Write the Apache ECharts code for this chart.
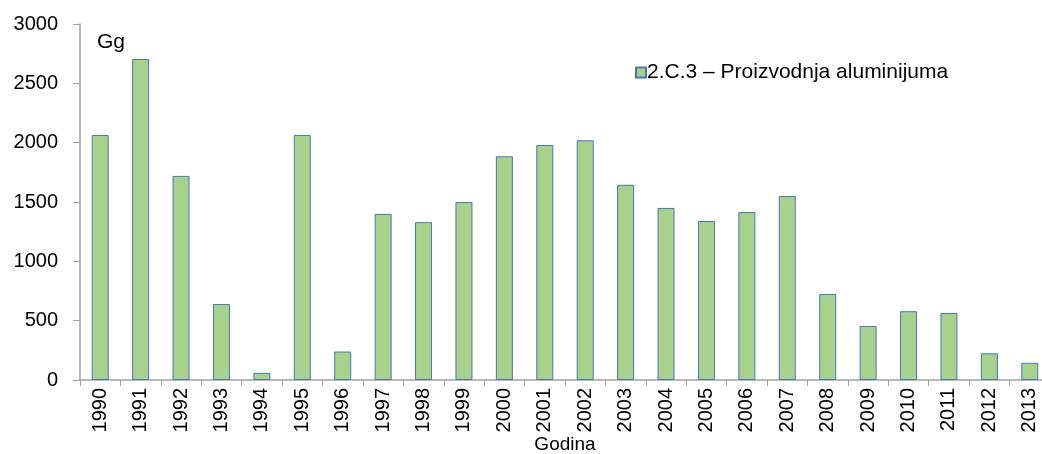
<!DOCTYPE html>
<html>
<head>
<meta charset="utf-8">
<script src="https://cdn.jsdelivr.net/npm/echarts@6/dist/echarts.min.js"></script>
<style>
    html, body { margin: 0; padding: 0; background: #fff; }
    #chart { width: 1042px; height: 454px; }
</style>
</head>
<body>
<div id="chart"></div>
<script>
    const years = ['1990', '1991', '1992', '1993', '1994', '1995', '1996', '1997', '1998', '1999', '2000', '2001',
        '2002', '2003', '2004', '2005', '2006', '2007', '2008', '2009', '2010', '2011', '2012', '2013'];
    const aluminium = [2065, 2705, 1720, 640, 60, 2065, 240, 1400, 1330, 1500, 1885, 1980,
        2020, 1645, 1450, 1340, 1415, 1550, 725, 455, 580, 565, 225, 145];
    const seriesName = '2.C.3 – Proizvodnja aluminijuma';

    const chart = echarts.init(document.getElementById('chart'));
    const font = 'Liberation Sans, Arial, sans-serif';

    chart.setOption({
        animation: false,
        textStyle: { fontFamily: font },
        grid: { left: 80, right: -8, top: 24, bottom: 74, containLabel: false, outerBoundsMode: 'none' },
        legend: {
            data: [seriesName],
            icon: 'rect',
            left: 630,
            top: 57,
            itemWidth: 10,
            itemHeight: 10,
            itemGap: 4,
            textStyle: { fontSize: 21, color: '#000', fontFamily: font, padding: [0, 0, 0, -4] }
        },
        xAxis: {
            type: 'category',
            data: years,
            name: 'Godina',
            nameLocation: 'middle',
            nameGap: 55,
            nameMoveOverlap: false,
            nameTextStyle: { fontSize: 19, color: '#000' },
            axisLine: { lineStyle: { color: '#a0a0a0', width: 1.5 } },
            axisTick: { show: true, length: 6, lineStyle: { color: '#a0a0a0' } },
            axisLabel: { rotate: 90, fontSize: 20, color: '#000', margin: 8 }
        },
        yAxis: {
            type: 'value',
            min: 0,
            max: 3000,
            interval: 500,
            splitLine: { show: false },
            axisLine: { show: true, lineStyle: { color: '#a0a0a0', width: 1.5 } },
            axisTick: { show: true, length: 7, lineStyle: { color: '#a0a0a0' } },
            axisLabel: { fontSize: 20, color: '#000', margin: 22, formatter: v => String(v) }
        },
        graphic: [{
            type: 'text',
            left: 97,
            top: 32,
            style: { text: 'Gg', fontSize: 21, fill: '#000', fontFamily: font }
        }],
        series: [{
            name: seriesName,
            type: 'bar',
            data: aluminium,
            barWidth: 17,
            itemStyle: { color: '#a9d18e', borderColor: '#4a76b4', borderWidth: 1 }
        }]
    });
</script>
</body>
</html>
